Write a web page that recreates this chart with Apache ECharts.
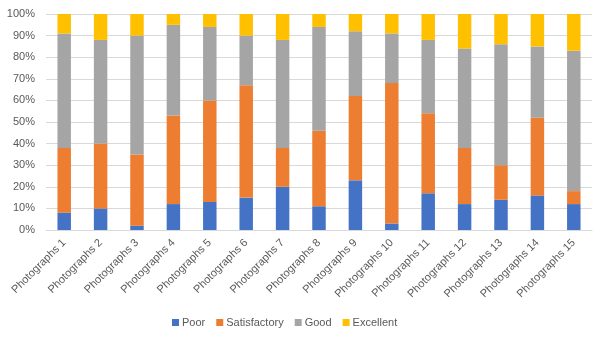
<!DOCTYPE html>
<html><head><meta charset="utf-8">
<script src="https://cdn.jsdelivr.net/npm/echarts@6/dist/echarts.min.js"></script>
<style>html,body{margin:0;padding:0;background:#fff}#c{width:602px;height:338px}</style>
</head><body><div id="c"></div>
<script>
const categories = ["Photographs 1","Photographs 2","Photographs 3","Photographs 4","Photographs 5","Photographs 6","Photographs 7","Photographs 8","Photographs 9","Photographs 10","Photographs 11","Photographs 12","Photographs 13","Photographs 14","Photographs 15"];
const poor = [8,10,2,12,13,15,20,11,23,3,17,12,14,16,12];
const satisfactory = [30,30,33,41,47,52,18,35,39,65,37,26,16,36,6];
const good = [53,48,55,42,34,23,50,48,30,23,34,46,56,33,65];
const excellent = [9,12,10,5,6,10,12,6,8,9,12,16,14,15,17];
const seriesNames = ["Poor","Satisfactory","Good","Excellent"];
const colors = ["#4472C4","#ED7D31","#A5A5A5","#FFC000"];
const font = "Liberation Sans";
const chart = echarts.init(document.getElementById('c'));
const data = [poor, satisfactory, good, excellent];
chart.setOption({
  animation:false,
  textStyle:{fontFamily:font},
  grid:{left:46,right:10,top:14,bottom:108},
  legend:{left:167,top:312,itemWidth:7,itemHeight:7,itemGap:11,icon:'rect',
    textStyle:{fontFamily:font,fontSize:11,color:'#595959',padding:[0,0,0,-2]},data:seriesNames},
  xAxis:{type:'category',data:categories,
    axisLine:{lineStyle:{color:'#d9d9d9'}},axisTick:{show:false},
    axisLabel:{rotate:45,interval:0,fontSize:11,color:'#595959',fontFamily:font,margin:11}},
  yAxis:{type:'value',min:0,max:100,interval:10,
    axisLabel:{formatter:'{value}%',fontSize:11,color:'#595959',fontFamily:font,margin:11},
    splitLine:{lineStyle:{color:'#d9d9d9'}},axisLine:{show:false},axisTick:{show:false}},
  series: seriesNames.map((n,i)=>({name:n,type:'bar',stack:'all',data:data[i],
    barWidth:'37%',itemStyle:{color:colors[i]}}))
});
</script></body></html>
